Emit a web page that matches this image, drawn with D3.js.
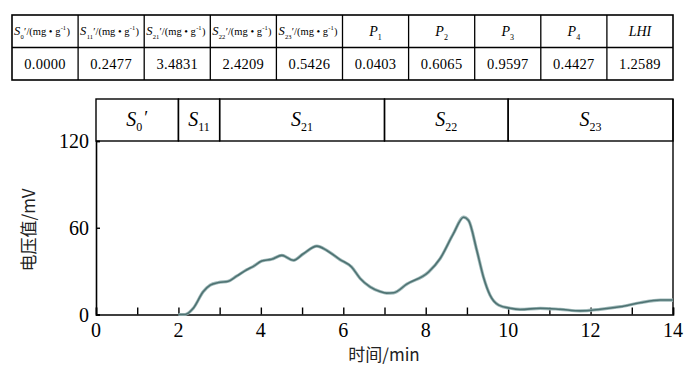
<!DOCTYPE html>
<html><head><meta charset="utf-8">
<script src="https://cdn.jsdelivr.net/npm/d3@7"></script>
<style>body{margin:0;background:#fff}svg{display:block}</style>
</head><body>
<svg id="c" width="700" height="387"></svg>
<script>
// ---- data ----
const headerSymbols = ["S","S","S","S","S","P","P","P","P","LHI"];
const headerSubs = ["0","11","21","22","23","1","2","3","4",""];
const headerUnits = [true,true,true,true,true,false,false,false,false,false];
const tableValues = ["0.0000","0.2477","3.4831","2.4209","0.5426","0.0403","0.6065","0.9597","0.4427","1.2589"];

const bandNames = ["S","S","S","S","S"];
const bandSubs = ["0","11","21","22","23"];
const bandPrimes = ["\u2032","","","",""];
const bandStarts = [0,2,3,7,10];
const bandEnds = [2,3,7,10,14];

const xTicks = [0,2,4,6,8,10,12,14];
const yTicks = [0,60,120];

const timeMin = [2.0,2.16,2.36,2.60,2.77,2.97,3.21,3.41,3.66,3.82,4.02,4.26,4.51,4.79,5.03,5.36,5.60,5.92,6.20,6.41,6.65,6.89,7.05,7.22,7.54,8.07,8.35,8.67,8.92,9.04,9.24,9.40,9.56,9.77,10.05,10.29,10.78,11.26,11.75,12.23,12.72,13.20,13.69,14.0];
const voltage = [0,0,4.3,15.7,20.3,22.1,23,26.5,31,33.3,37,38.2,40.9,37.5,42,47.3,44.3,38,32.9,24.9,19.1,15.9,14.8,15.0,21.0,29.4,38.7,55.8,67.3,65,44.3,26,13.4,6.5,4.3,3.5,4.3,3.6,2.5,3.6,5.4,8.1,10,10];

// ---- layout ----
const svg = d3.select("#c");
const serif = "'Liberation Serif','DejaVu Serif',serif";
const cjk = "'Noto Sans CJK SC',sans-serif";

// table
const tLeft = 12, tRight = 673, tTop = 15, tMid = 47.5, tBot = 80;
const colX = d3.scaleBand().domain(d3.range(10)).range([tLeft, tRight]).padding(0);
const tg = svg.append("g");
tg.append("rect").attr("x",tLeft).attr("y",tTop).attr("width",tRight-tLeft).attr("height",tBot-tTop)
  .attr("fill","none").attr("stroke","#000").attr("stroke-width",1.6);
tg.append("line").attr("x1",tLeft).attr("x2",tRight).attr("y1",tMid).attr("y2",tMid).attr("stroke","#000").attr("stroke-width",1.3);
d3.range(1,10).forEach(i=>{
  tg.append("line").attr("x1",colX(i)).attr("x2",colX(i)).attr("y1",tTop).attr("y2",tBot).attr("stroke","#000").attr("stroke-width",1.3);
});
headerSymbols.forEach((s,i)=>{
  const cx = colX(i) + colX.bandwidth()/2;
  if (headerUnits[i]) {
    // pieces laid out one after another, separate text elements
    const pieces = [
      {t:s, size:12.5, dy:0, italic:true},
      {t:headerSubs[i], size:6.5, dy:4, italic:false},
      {t:"\u2032/(mg \u2022 g", size:10.5, dy:0, italic:false},
      {t:"-1", size:6.5, dy:-5, italic:false},
      {t:")", size:10.5, dy:0, italic:false}
    ];
    let px = colX(i) + 2;
    pieces.forEach(p=>{
      const el = tg.append("text").attr("x",px).attr("y",35+p.dy).attr("font-family",serif)
        .attr("font-size",p.size).attr("fill","#000").attr("font-style",p.italic?"italic":"normal").text(p.t);
      px += el.node().getComputedTextLength() + 0.3;
    });
  } else {
    const t = tg.append("text").attr("x",cx).attr("y",36).attr("text-anchor","middle").attr("font-family",serif).attr("font-size",14).attr("fill","#000");
    t.append("tspan").attr("font-style","italic").text(s);
    if (headerSubs[i]) t.append("tspan").attr("font-size",8).attr("dy",4).text(headerSubs[i]);
  }
});
tableValues.forEach((v,i)=>{
  tg.append("text").attr("x",colX(i)+colX.bandwidth()/2).attr("y",69).attr("text-anchor","middle")
    .attr("font-family",serif).attr("font-size",14.5).attr("fill","#000").attr("letter-spacing","0.3").text(v);
});

// chart
const x = d3.scaleLinear().domain([0,14]).range([96,673]);
const y = d3.scaleLinear().domain([0,120]).range([314.5,141]);
const bandTop = 99;
const g = svg.append("g");

// band boxes
bandStarts.forEach((b,i)=>{
  g.append("rect").attr("x",x(b)).attr("y",bandTop).attr("width",x(bandEnds[i])-x(b)).attr("height",y(120)-bandTop)
    .attr("fill","none").attr("stroke","#000").attr("stroke-width",1.4);
  const t = g.append("text").attr("x",(x(b)+x(bandEnds[i]))/2).attr("y",126).attr("text-anchor","middle")
    .attr("font-family",serif).attr("font-size",20).attr("fill","#000");
  t.append("tspan").attr("font-style","italic").text(bandNames[i]);
  t.append("tspan").attr("font-size",12).attr("dy",5).text(bandSubs[i]);
  if (bandPrimes[i]) t.append("tspan").attr("font-size",18).attr("dy",-7).attr("dx",2).text(bandPrimes[i]);
});
// right frame
g.append("line").attr("x1",x(14)).attr("x2",x(14)).attr("y1",bandTop).attr("y2",y(0)).attr("stroke","#000").attr("stroke-width",1.4);

// axes
const xAxis = d3.axisBottom(x).tickValues(d3.range(0,15,1)).tickSize(-7).tickFormat("");
const gx = g.append("g").attr("transform",`translate(0,${y(0)})`).call(xAxis);
gx.select(".domain").attr("stroke-width",1.6);
gx.selectAll(".tick line").attr("stroke-width",1.4);
xTicks.forEach(v=>{
  g.append("text").attr("x",x(v)).attr("y",337).attr("text-anchor","middle").attr("font-family",serif).attr("font-size",20).attr("fill","#000").text(v);
});
const yAxis = d3.axisLeft(y).tickValues(yTicks).tickSize(-4).tickFormat("");
const gy = g.append("g").attr("transform",`translate(${x(0)},0)`).call(yAxis);
gy.select(".domain").attr("stroke-width",1.6);
gy.selectAll(".tick line").attr("stroke-width",1.4);
yTicks.forEach(v=>{
  g.append("text").attr("x",89).attr("y",y(v)+7).attr("text-anchor","end").attr("font-family",serif).attr("font-size",20).attr("fill","#000").text(v);
});

// axis titles
g.append("text").attr("transform","translate(35,230) rotate(-90)").attr("text-anchor","middle")
  .attr("font-family",cjk).attr("font-size",17).attr("fill","#222").text("电压值/mV");
g.append("text").attr("x",384).attr("y",361).attr("text-anchor","middle")
  .attr("font-family",cjk).attr("font-size",17).attr("fill","#222").text("时间/min");

// curve
const pts = timeMin.map((t,i)=>[t,voltage[i]]);
const line = d3.line().x(d=>x(d[0])).y(d=>y(d[1])).curve(d3.curveMonotoneX);
g.append("path").datum(pts).attr("d",line).attr("fill","none").attr("stroke","#9fb9b9").attr("stroke-width",3.2);
g.append("path").datum(pts).attr("d",line).attr("fill","none").attr("stroke","#4e7272").attr("stroke-width",1.6);
</script>
</body></html>
